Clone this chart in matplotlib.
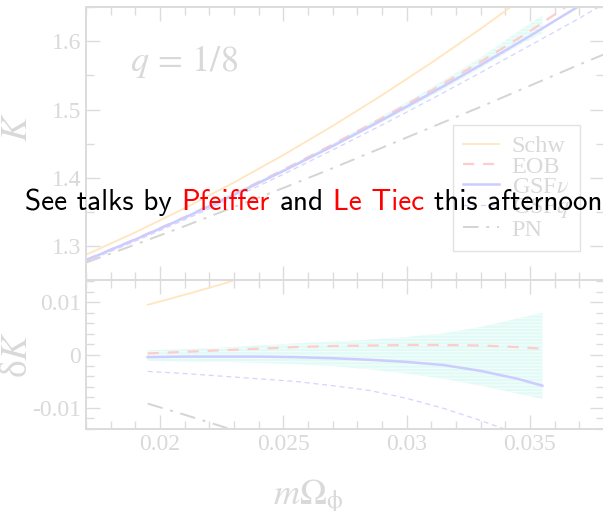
import matplotlib
matplotlib.use("Agg")
import matplotlib.pyplot as plt
from matplotlib.ticker import MultipleLocator

plt.rcParams['mathtext.fontset'] = 'stix'

# ---- frequency grids -------------------------------------------------------
omega_full = [0.017, 0.019, 0.021, 0.023, 0.025, 0.027, 0.029, 0.031,
              0.033, 0.035, 0.037, 0.038]
omega_nr = [0.0195, 0.021, 0.0225, 0.024, 0.0255, 0.027, 0.0285, 0.030,
            0.0315, 0.033, 0.0345, 0.0355]

# ---- K(Omega), upper panel -------------------------------------------------
k_schw = [1.287, 1.3199, 1.3553, 1.3931, 1.4333, 1.4760, 1.5211, 1.5686,
          1.6185, 1.6709, 1.7257, 1.7540]
k_eob = [1.2795, 1.3100, 1.3424, 1.3762, 1.4117, 1.4487, 1.4874, 1.5278,
         1.5700, 1.6150, 1.6640, 1.6900]
k_gsf_nu = [1.279, 1.3094, 1.3414, 1.3749, 1.4099, 1.4465, 1.4846, 1.5242,
            1.5653, 1.608, 1.6521, 1.6748]
k_gsf_q = [1.277, 1.3069, 1.3384, 1.3709, 1.4051, 1.4407, 1.4774, 1.5152,
           1.5543, 1.594, 1.634, 1.655]
k_pn = [1.2755, 1.302, 1.329, 1.357, 1.385, 1.414, 1.444, 1.474, 1.504,
        1.535, 1.566, 1.581]
# NR uncertainty band in K
k_nr_lo = [1.316, 1.340, 1.365, 1.3905, 1.417, 1.444, 1.472, 1.5005,
           1.530, 1.561, 1.593, 1.612]
k_nr_hi = [1.319, 1.3435, 1.369, 1.395, 1.422, 1.450, 1.480, 1.5105,
           1.543, 1.576, 1.614, 1.638]

# ---- delta K relative to NR, lower panel -----------------------------------
nr_err_hi = [0.0009, 0.0011, 0.0014, 0.0018, 0.0022, 0.0025, 0.0029, 0.0034,
             0.0041, 0.0053, 0.0069, 0.0080]
nr_err_lo = [-0.0011, -0.0012, -0.0013, -0.0015, -0.0017, -0.0021, -0.0027,
             -0.0035, -0.0045, -0.0058, -0.0073, -0.0083]
dk_eob = [0.0003, 0.0006, 0.0009, 0.0012, 0.0015, 0.0017, 0.0018, 0.0019,
          0.0019, 0.0018, 0.0015, 0.0012]
dk_gsf_nu = [-0.0004, -0.0003, -0.0003, -0.0003, -0.0004, -0.0006, -0.0009,
             -0.0013, -0.0019, -0.0030, -0.0045, -0.0058]
dk_gsf_q = [-0.0031, -0.0035, -0.0040, -0.0045, -0.0050, -0.0058, -0.0067,
            -0.0082, -0.0101, -0.0124, -0.0149, -0.0166]
omega_schw_pn = [0.0195, 0.021, 0.0225, 0.024, 0.0255]
dk_schw = [0.0095, 0.0114, 0.0134, 0.0156, 0.0180]
dk_pn = [-0.0092, -0.0113, -0.0135, -0.0158, -0.0181]

legend_labels = ["Schw", "EOB", r"GSF$\nu$", r"GSF$q$", "PN"]
k_ticks = [1.3, 1.4, 1.5, 1.6]
dk_ticks = [-0.01, 0.0, 0.01]
dk_tick_labels = ["-0.01", "0", "0.01"]
omega_ticks = [0.02, 0.025, 0.03, 0.035]
omega_tick_labels = ["0.02", "0.025", "0.03", "0.035"]

# ---- styling ---------------------------------------------------------------
FRAME = "#dcdcdc"
TXT = "#d9d9d9"
C_SCHW = "#ffe6bf"
C_EOB = "#ffcccc"
C_NU = "#ccccff"
C_Q = "#d4d4ff"
C_PN = "#d4d4d4"
C_BAND = "#e0faf5"
SERIF = "Liberation Serif"
EOB_DASH = (0, (5, 4))
Q_DASH = (0, (4, 3))
PN_DASH = (0, (8, 4, 1.5, 4))

W, H = 603, 511
fig = plt.figure(figsize=(W / 100, H / 100), dpi=100)
ax_k = fig.add_axes([86 / W, 1 - 280 / H, 518 / W, 272.7 / H])
ax_d = fig.add_axes([86 / W, 1 - 429 / H, 518 / W, 149 / H])

for ax in (ax_k, ax_d):
    ax.set_xlim(0.017, 0.038)
    for s in ax.spines.values():
        s.set_color(FRAME)
        s.set_linewidth(1.4)
    ax.tick_params(which="both", direction="in", top=True, right=True,
                   color=FRAME, labelcolor=TXT, labelsize=17, width=1.0)
    ax.tick_params(which="major", length=10)
    ax.tick_params(which="minor", length=5.5)
    ax.xaxis.set_minor_locator(MultipleLocator(0.001))

# upper panel: K
ax_k.set_ylim(1.25, 1.65)
ax_k.set_yticks(k_ticks, [f"{v:.1f}" for v in k_ticks])
ax_k.yaxis.set_minor_locator(MultipleLocator(0.05))
ax_k.set_xticks(omega_ticks, [])
ax_k.fill_between(omega_nr, k_nr_lo, k_nr_hi, color=C_BAND, lw=0,
                  hatch="-----", edgecolor="#f2fdfb")
ax_k.plot(omega_full, k_schw, color=C_SCHW, lw=1.3, label=legend_labels[0])
ax_k.plot(omega_full, k_eob, color=C_EOB, lw=1.6, ls=EOB_DASH,
          label=legend_labels[1])
ax_k.plot(omega_full, k_gsf_nu, color=C_NU, lw=1.8, label=legend_labels[2])
ax_k.plot(omega_full, k_gsf_q, color=C_Q, lw=0.9, ls=Q_DASH,
          label=legend_labels[3])
ax_k.plot(omega_full, k_pn, color=C_PN, lw=1.4, ls=PN_DASH,
          label=legend_labels[4])
ax_k.set_ylabel(r"$K$", fontsize=27, color=TXT)
ax_k.yaxis.set_label_coords(-0.098, 0.56)
ax_k.text(0.085, 0.765, r"$q\,=\,1/8$", transform=ax_k.transAxes,
          fontsize=26, color=TXT)
leg = ax_k.legend(loc="upper left", bbox_to_anchor=(0.708, 0.568),
                  frameon=True, fancybox=False,
                  prop={"family": SERIF, "size": 17.5},
                  handlelength=1.5, handletextpad=0.5, labelspacing=-0.07,
                  borderpad=0.42, borderaxespad=0)
leg.get_frame().set_edgecolor(FRAME)
leg.get_frame().set_linewidth(1.0)
for t in leg.get_texts():
    t.set_color(TXT)

# lower panel: delta K
ax_d.set_ylim(-0.014, 0.0142)
ax_d.set_yticks(dk_ticks, dk_tick_labels)
ax_d.yaxis.set_minor_locator(MultipleLocator(0.002))
ax_d.set_xticks(omega_ticks, omega_tick_labels)
ax_d.fill_between(omega_nr, nr_err_lo, nr_err_hi, color=C_BAND, lw=0,
                  hatch="-----", edgecolor="#f2fdfb")
ax_d.plot(omega_schw_pn, dk_schw, color=C_SCHW, lw=1.3)
ax_d.plot(omega_nr, dk_eob, color=C_EOB, lw=1.6, ls=EOB_DASH)
ax_d.plot(omega_nr, dk_gsf_nu, color=C_NU, lw=1.8)
ax_d.plot(omega_nr, dk_gsf_q, color=C_Q, lw=0.9, ls=Q_DASH)
ax_d.plot(omega_schw_pn, dk_pn, color=C_PN, lw=1.4, ls=PN_DASH)
ax_d.set_ylabel("δ" + r"$K$", fontsize=27, color=TXT, family=SERIF)
ax_d.yaxis.set_label_coords(-0.098, 0.5)
ax_d.set_xlabel(r"$m\Omega_{\mathrm{\phi}}$", fontsize=26, color=TXT)
ax_d.xaxis.set_label_coords(0.43, -0.33)

for ax in (ax_k, ax_d):
    for lab in ax.get_xticklabels() + ax.get_yticklabels():
        lab.set_fontfamily(SERIF)

# announcement across the figure, words laid out one after another
pieces = [("See talks by", "black"), ("Pfeiffer", "red"), ("and", "black"),
          ("Le Tiec", "red"), ("this afternoon", "black")]
renderer = fig.canvas.get_renderer()
note_style = dict(fontsize=21, family="cmss10", ha="left", va="baseline")
probe_a = fig.text(0, 0, "xx", **note_style)
probe_b = fig.text(0, 0, "x x", **note_style)
space = (probe_b.get_window_extent(renderer).width
         - probe_a.get_window_extent(renderer).width)
probe_a.remove()
probe_b.remove()
x_px = 25.0
for s, c in pieces:
    t = fig.text(x_px / W, 1 - 210 / H, s, color=c, **note_style)
    x_px = t.get_window_extent(renderer).x1 + space

fig.savefig("out.png", dpi=100)
